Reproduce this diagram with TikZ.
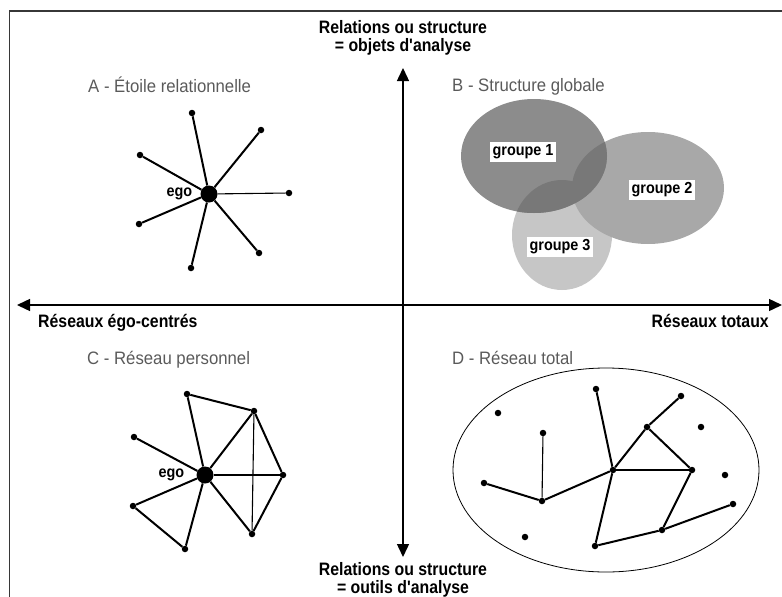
\documentclass[tikz,border=0pt]{standalone}
\usepackage{fontspec}
\setmainfont{Liberation Sans}
\newfontfamily\axisfont[FakeStretch=0.88]{Liberation Sans}
\newfontfamily\titlefont[FakeStretch=0.93]{Liberation Sans}
\newfontfamily\labelfont[FakeStretch=0.9]{Liberation Sans}
\usetikzlibrary{
  arrows.meta,
  positioning
}
\definecolor{frameline}{RGB}{55,55,55}
\definecolor{titlegray}{RGB}{90,90,90}
\definecolor{grpone}{RGB}{140,140,140}
\definecolor{grptwo}{RGB}{168,168,168}
\definecolor{grpthree}{RGB}{198,198,198}
\definecolor{grpover}{RGB}{120,120,120}

\begin{document}
\begin{tikzpicture}[
  x=1pt, y=-1pt,
  axis/.style={
    {Triangle[length=13pt,width=12pt]}-{Triangle[length=13pt,width=12pt]},
    line width=1.4pt
  },
  axislabel/.style={
    font=\axisfont\bfseries\fontsize{18}{18.5}\selectfont,
    inner sep=0pt,
    align=center
  },
  quadtitle/.style={
    font=\titlefont\fontsize{18}{20}\selectfont,
    text=titlegray,
    inner sep=0pt,
    anchor=base west
  },
  smalllabel/.style={
    font=\labelfont\bfseries\fontsize{16}{18}\selectfont,
    inner sep=0pt
  },
  grouplabel/.style={
    smalllabel,
    fill=white,
    inner sep=2.5pt
  },
  dot/.style={
    circle,
    fill=black,
    inner sep=0pt,
    minimum size=6.5pt
  },
  egodot/.style={
    dot,
    minimum size=17pt
  },
  tie/.style={
    line width=2pt
  },
  thintie/.style={
    line width=1.1pt
  }
]
\useasboundingbox (0,0) rectangle (782,597);

% frame and axes
\draw[frameline, line width=1.4pt] (782,11) -- (9.5,11) -- (9.5,597);
\coordinate (axtop) at (403,68);
\coordinate (axbottom) at (403,557);
\coordinate (axleft) at (17,305);
\coordinate (axright) at (782,305);
\draw[axis] (axbottom) -- (axtop);
\draw[axis] (axleft) -- (axright);

\node[axislabel, anchor=north] (toplbl) at (403,20) {Relations ou structure\\= objets d'analyse};
\node[axislabel, anchor=north] (botlbl) at (403,562) {Relations ou structure\\= outils d'analyse};
\node[axislabel, anchor=base west] (leftlbl) at (38,327) {Réseaux égo-centrés};
\node[axislabel, anchor=base east] (rightlbl) at (769,327) {Réseaux totaux};

% quadrant titles
\node[quadtitle] (titleA) at (88,92) {A - Étoile relationnelle};
\node[quadtitle] (titleB) at (452,91) {B - Structure globale};
\node[quadtitle] (titleC) at (87,364) {C - Réseau personnel};
\node[quadtitle] (titleD) at (452,364) {D - Réseau total};

% A : star
\node[egodot] (egoA) at (209,194) {};
\node[smalllabel, left=8pt of egoA] (egoAlbl) {ego};
\node[dot] (starA1) at (192,113) {};
\node[dot] (starA2) at (261,130) {};
\node[dot] (starA3) at (140,155) {};
\node[dot] (starA4) at (289,193) {};
\node[dot] (starA5) at (139,224) {};
\node[dot] (starA6) at (259,253) {};
\node[dot] (starA7) at (191,268) {};
\draw[tie] (egoA) -- (starA1);
\draw[tie] (egoA) -- (starA2);
\draw[tie] (egoA) -- (starA3);
\draw[thintie] (egoA) -- (starA4);
\draw[tie] (egoA) -- (starA5);
\draw[tie] (egoA) -- (starA6);
\draw[tie] (egoA) -- (starA7);

% B : groups
\fill[grpthree] (562,235) ellipse [x radius=50pt, y radius=55pt];
\fill[grptwo] (648,188) ellipse [x radius=76pt, y radius=56pt];
\fill[grpone] (534,156) ellipse [x radius=73pt, y radius=57pt];
\begin{scope}
  \clip (534,156) ellipse [x radius=73pt, y radius=57pt];
  \fill[grpover] (648,188) ellipse [x radius=76pt, y radius=56pt];
  \fill[grpover] (562,235) ellipse [x radius=50pt, y radius=55pt];
\end{scope}
\node[grouplabel] (grp1) at (523,152) {groupe 1};
\node[grouplabel] (grp2) at (662,190) {groupe 2};
\node[grouplabel] (grp3) at (560,247) {groupe 3};

% C : personal network
\node[egodot] (egoC) at (205,475) {};
\node[smalllabel, left=12pt of egoC] (egoClbl) {ego};
\node[dot] (persC1) at (187,394) {};
\node[dot] (persC2) at (254,411) {};
\node[dot] (persC3) at (134,437) {};
\node[dot] (persC4) at (283,475) {};
\node[dot] (persC5) at (133,506) {};
\node[dot] (persC6) at (252,534) {};
\node[dot] (persC7) at (185,549) {};
\draw[tie] (egoC) -- (persC1);
\draw[tie] (egoC) -- (persC2);
\draw[tie] (egoC) -- (persC3);
\draw[thintie] (egoC) -- (persC4);
\draw[tie] (egoC) -- (persC5);
\draw[tie] (egoC) -- (persC6);
\draw[tie] (egoC) -- (persC7);
\draw[tie] (persC1) -- (persC2);
\draw[thintie] (persC2) -- (persC6);
\draw[tie] (persC2) -- (persC4);
\draw[tie] (persC4) -- (persC6);
\draw[tie] (persC5) -- (persC7);

% D : whole network
\draw[line width=0.8pt] (606,470) ellipse [x radius=153pt, y radius=102pt];
\node[dot] (totD1) at (498,413) {};
\node[dot] (totD2) at (543,433) {};
\node[dot] (totD3) at (596,389) {};
\node[dot] (totD4) at (681,396) {};
\node[dot] (totD5) at (647,427) {};
\node[dot] (totD6) at (701,427) {};
\node[dot] (totD7) at (613,470) {};
\node[dot] (totD8) at (692,470) {};
\node[dot] (totD9) at (725,475) {};
\node[dot] (totD10) at (484,483) {};
\node[dot] (totD11) at (542,501) {};
\node[dot] (totD12) at (733,504) {};
\node[dot] (totD13) at (525,537) {};
\node[dot] (totD14) at (662,530) {};
\node[dot] (totD15) at (595,546) {};
\draw[thintie] (totD2) -- (totD11);
\draw[tie] (totD10) -- (totD11);
\draw[tie] (totD11) -- (totD7);
\draw[tie] (totD3) -- (totD7);
\draw[tie] (totD7) -- (totD5);
\draw[tie] (totD5) -- (totD4);
\draw[tie] (totD5) -- (totD8);
\draw[thintie] (totD7) -- (totD8);
\draw[tie] (totD8) -- (totD14);
\draw[tie] (totD7) -- (totD15);
\draw[tie] (totD15) -- (totD14);
\draw[tie] (totD14) -- (totD12);

\end{tikzpicture}
\end{document}
